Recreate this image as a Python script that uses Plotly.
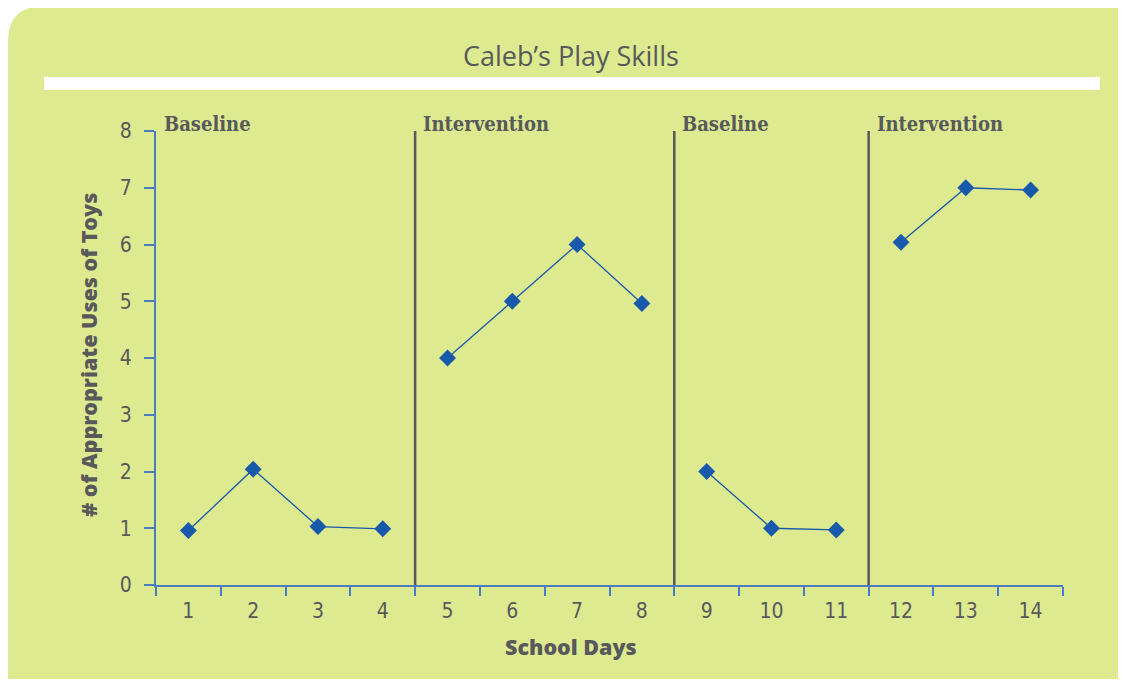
import plotly.graph_objects as go

# data
days = list(range(1, 15))
values = [0.96, 2.04, 1.03, 0.99, 4.0, 5.0, 6.0, 4.96, 2.0, 1.0, 0.97, 6.04, 7.0, 6.96]
phases = ["Baseline"] * 4 + ["Intervention"] * 4 + ["Baseline"] * 3 + ["Intervention"] * 3
y_ticks = list(range(0, 9))

# the page body has an 8px margin, so the figure is 16px smaller than the window
OFF = 8
W, H = 1126 - 2 * OFF, 687 - 2 * OFF
L, R, T, B = 156, 1063, 131, 585   # plot area, window pixels

GREEN = "#DDEA90"
GREY = "#58595B"
AXIS_BLUE = "#4A7CC0"
MARK_BLUE = "#1859AC"


def px(x):
    return (x - L) / (R - L)


def py(y):
    return (B - y) / (B - T)


fig = go.Figure()

# one trace per phase so segments do not cross the phase lines
groups = []
for d, v, p in zip(days, values, phases):
    if not groups or groups[-1][0] != p:
        groups.append([p, [], []])
    groups[-1][1].append(d)
    groups[-1][2].append(v)

for name, xs, ys in groups:
    fig.add_trace(go.Scatter(
        x=xs, y=ys, mode="lines+markers", name=name, showlegend=False,
        line=dict(color=MARK_BLUE, width=1.3),
        marker=dict(symbol="diamond", size=13, color=MARK_BLUE),
    ))

# green rounded panel
x0, y0, x1, y1, r1 = 8, 6, 1200, 760, 36
path = (f"M {px(x0)},{py(y0 + r1)} Q {px(x0)},{py(y0)} {px(x0 + r1)},{py(y0)} "
        f"L {px(x1)},{py(y0)} L {px(x1)},{py(y1)} L {px(x0)},{py(y1)} Z")
fig.add_shape(type="path", path=path, xref="paper", yref="paper",
              fillcolor=GREEN, line_width=0, layer="below")
# white band under the title
fig.add_shape(type="rect", xref="paper", yref="paper",
              x0=px(44), x1=px(1100), y0=py(90), y1=py(77),
              fillcolor="white", line_width=0, layer="below")

# phase change lines and labels
for i, (name, xs, ys) in enumerate(groups):
    if i > 0:
        fig.add_shape(type="line", x0=xs[0] - 0.5, x1=xs[0] - 0.5, y0=0, y1=8,
                      line=dict(color=GREY, width=2.5))
    fig.add_annotation(x=xs[0] - 0.5, y=1, xref="x", yref="paper",
                       text=name, showarrow=False, xanchor="left", yanchor="bottom",
                       xshift=6, yshift=-7,
                       font=dict(family="DejaVu Serif Condensed, DejaVu Serif", size=20,
                                 color=GREY, weight="bold"))

fig.add_annotation(x=px(571), y=py(56), xref="paper", yref="paper",
                   xanchor="center", yanchor="middle",
                   text="Caleb’s Play Skills", showarrow=False,
                   font=dict(family="Open Sans", size=27, color=GREY))
fig.add_annotation(x=px(571), y=py(646), xref="paper", yref="paper",
                   xanchor="center", yanchor="middle",
                   text="School Days", showarrow=False,
                   font=dict(family="Open Sans", size=21.5, color=GREY, weight=800))
fig.add_annotation(x=px(88), y=py(355), xref="paper", yref="paper",
                   xanchor="center", yanchor="middle",
                   text="# of Appropriate Uses of Toys", showarrow=False, textangle=-90,
                   font=dict(family="Open Sans", size=21.5, color=GREY, weight=800))

tick_font = dict(family="DejaVu Sans Condensed, Liberation Sans Narrow, Roboto",
                 size=21, color=GREY)
fig.update_xaxes(
    range=[0.5, 14.5], tickvals=days, ticktext=[str(d) for d in days],
    ticks="", showgrid=False, zeroline=False, ticklabelstandoff=6,
    showline=True, linecolor=AXIS_BLUE, linewidth=2, tickfont=tick_font,
    minor=dict(tick0=0.5, dtick=1, ticks="outside", ticklen=9,
               tickcolor=AXIS_BLUE, tickwidth=2, showgrid=False),
)
fig.update_yaxes(
    range=[0, 8], tickvals=y_ticks, ticks="outside", ticklen=10,
    tickcolor=AXIS_BLUE, tickwidth=2, showgrid=False, zeroline=False,
    showline=True, linecolor=AXIS_BLUE, linewidth=2, tickfont=tick_font,
    ticklabelstandoff=8,
)

fig.update_layout(
    width=W, height=H, autosize=False,
    margin=dict(l=L - OFF, r=W - (R - OFF), t=T - OFF, b=H - (B - OFF)),
    paper_bgcolor="white", plot_bgcolor="rgba(0,0,0,0)",
)

fig.write_html("out.html")
